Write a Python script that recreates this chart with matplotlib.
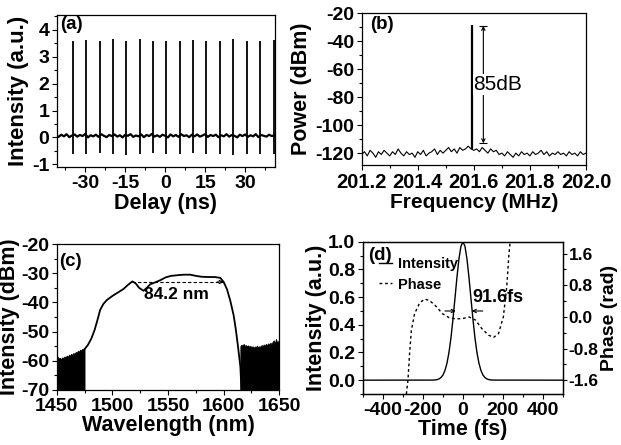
import numpy as np
import matplotlib.pyplot as plt
from matplotlib.ticker import MultipleLocator

plt.rcParams['font.family'] = ['Liberation Sans', 'DejaVu Sans']
plt.rcParams['font.weight'] = 'bold'
plt.rcParams['axes.labelweight'] = 'bold'
plt.rcParams['axes.unicode_minus'] = False

# (a) pulse train
pulse_t = [-34.6, -29.6, -24.6, -19.6, -14.6, -9.6, -4.6, 0.4, 5.4, 10.4,
           15.5, 20.5, 25.5, 30.6, 35.6, 40.9]
pulse_top = [3.60, 3.62, 3.60, 3.65, 3.60, 3.65, 3.60, 3.60, 3.60, 3.62,
             3.60, 3.60, 3.65, 3.60, 3.60, 3.62]
pulse_dip = [-0.62, -0.60, -0.58, -0.62, -0.65, -0.60, -0.58, -0.62, -0.60, -0.58,
             -0.62, -0.60, -0.66, -0.60, -0.62, -0.60]
base_t = np.arange(-41, 42)
base_a = [0.08, 0.02, 0.10, 0.04, 0.12, 0.01, 0.07, 0.11, 0.03, 0.09,
          0.05, 0.13, 0.00, 0.08, 0.04, 0.10, 0.02, 0.12, 0.06, 0.01,
          0.09, 0.05, 0.11, 0.03, 0.08, 0.00, 0.10, 0.06, 0.12, 0.02,
          0.07, 0.04, 0.11, 0.01, 0.09, 0.05, 0.13, 0.03, 0.08, 0.02,
          0.10, 0.06, 0.00, 0.11, 0.04, 0.09, 0.02, 0.12, 0.05, 0.08,
          0.01, 0.10, 0.04, 0.11, 0.03, 0.07, 0.12, 0.02, 0.09, 0.05,
          0.10, 0.01, 0.08, 0.04, 0.12, 0.03, 0.09, 0.06, 0.00, 0.10,
          0.05, 0.11, 0.02, 0.08, 0.04, 0.12, 0.01, 0.09, 0.06, 0.03,
          0.10, 0.05, 0.08]

# (b) RF spectrum
freq = np.round(np.arange(201.20, 202.005, 0.01), 2)
rf_noise = [-121, -119, -122, -118, -120, -123, -119, -121, -118, -120,
            -122, -119, -121, -117, -120, -122, -119, -121, -120, -123,
            -119, -121, -118, -122, -120, -119, -117, -121, -118, -120,
            -118, -116, -119, -117, -120, -116, -118, -117, -115, -117,
            -118, -117, -119, -116, -118, -120, -117, -119, -118, -121,
            -120, -122, -119, -121, -123, -120, -122, -119, -121, -120,
            -122, -119, -121, -120, -118, -121, -119, -122, -120, -121,
            -119, -121, -120, -122, -119, -121, -120, -122, -119, -121, -120]
rf_peak_f = 201.594
rf_peak_p = -28.5

# (c) optical spectrum
wl = [1474, 1478, 1481, 1484, 1487, 1489, 1492, 1495, 1500, 1505, 1510, 1514,
      1518, 1521, 1524, 1528, 1531, 1534, 1538, 1543, 1548, 1553, 1558, 1564,
      1570, 1575, 1580, 1586, 1592, 1597, 1600, 1603, 1606, 1609, 1611, 1613,
      1615, 1616]
spec = [-56.5, -54.6, -52.5, -49.5, -45.5, -42.6, -40.5, -39.2, -37.8, -36.6,
        -35.4, -34.0, -32.8, -33.5, -35.0, -36.0, -35.0, -33.8, -33.2, -32.4,
        -31.4, -30.9, -30.7, -30.5, -30.5, -30.9, -31.2, -31.3, -31.3, -31.6,
        -33.0, -35.5, -39.5, -44.5, -49.5, -55.5, -62.0, -70.0]
wl_left = np.arange(1450, 1476)
floor_left = [-58.0, -58.8, -59.2, -59.0, -59.5, -58.8, -59.2, -58.5, -58.9, -58.2,
              -58.7, -57.9, -58.3, -57.6, -58.0, -57.3, -57.7, -57.0, -57.2, -56.6,
              -56.9, -56.2, -56.5, -55.9, -56.2, -55.8]
wl_right = np.arange(1615, 1651)
floor_right = [-55.0, -54.5, -54.8, -54.2, -54.9, -54.6, -55.1, -54.7, -55.2, -54.9,
               -55.4, -55.0, -55.6, -55.1, -55.3, -54.8, -55.5, -55.0, -55.2, -54.6,
               -55.0, -54.4, -54.9, -54.2, -54.7, -54.0, -54.5, -53.8, -54.3, -53.5,
               -53.0, -54.2, -52.5, -53.8, -53.2, -54.0]

# (d) pulse intensity and phase
t_fs = [-500, -150, -140, -130, -120, -110, -100, -90, -80, -70, -60, -50, -40,
        -30, -20, -10, 0, 10, 20, 30, 40, 50, 60, 70, 80, 90, 100, 110, 120,
        130, 140, 150, 500]
inten = [0.0, 0.0006, 0.0016, 0.0039, 0.0088, 0.019, 0.037, 0.070, 0.122, 0.200,
         0.306, 0.440, 0.591, 0.744, 0.877, 0.968, 1.0, 0.968, 0.877, 0.744,
         0.591, 0.440, 0.306, 0.200, 0.122, 0.070, 0.037, 0.019, 0.0088, 0.0039,
         0.0016, 0.0006, 0.0]
t_ph = [-283, -275, -267, -258, -242, -217, -193, -168, -135, -102, -69, -36,
        0, 30, 63, 95, 128, 153, 178, 202, 219, 230, 237]
phase = [-1.95, -1.6, -0.93, -0.34, 0.08, 0.35, 0.45, 0.42, 0.27, 0.08, -0.02,
         -0.05, -0.04, 0.0, -0.08, -0.30, -0.46, -0.52, -0.42, 0.0, 0.76, 1.6, 1.94]

fig = plt.figure(figsize=(6.21, 4.45), dpi=100)
ax_a = fig.add_axes([0.0918, 0.6247, 0.351, 0.3416])
ax_b = fig.add_axes([0.5824, 0.6292, 0.3612, 0.341])
ax_c = fig.add_axes([0.0913, 0.1236, 0.3585, 0.328])
ax_d = fig.add_axes([0.5845, 0.1146, 0.322, 0.342])
ax_d2 = ax_d.twinx()

for ax in (ax_a, ax_b, ax_c, ax_d, ax_d2):
    ax.tick_params(labelsize=14, length=3.5, width=0.8, pad=2)
    ax.tick_params(which='minor', length=2, width=0.8)
    for s in ax.spines.values():
        s.set_linewidth(0.9)

# (a)
ax_a.plot(base_t, base_a, color='black', lw=1.6)
ax_a.vlines(pulse_t, pulse_dip, pulse_top, color='black', lw=1.3)
ax_a.set_xlim(-40.6, 41.2)
ax_a.set_ylim(-1.1, 4.55)
ax_a.set_xticks([-30, -15, 0, 15, 30])
ax_a.set_yticks([-1, 0, 1, 2, 3, 4])
ax_a.xaxis.set_minor_locator(MultipleLocator(7.5))
ax_a.yaxis.set_minor_locator(MultipleLocator(0.5))
ax_a.set_xlabel('Delay (ns)', fontsize=15.5, labelpad=1)
ax_a.set_ylabel('Intensity (a.u.)', fontsize=16, labelpad=2)
ax_a.text(0.014, 0.94, '(a)', transform=ax_a.transAxes, fontsize=13.5,
          va='center', ha='left')

# (b)
ax_b.plot(freq, rf_noise, color='black', lw=0.8)
ax_b.vlines(rf_peak_f, rf_noise[39], rf_peak_p, color='black', lw=1.6)
ax_b.annotate('', xy=(201.634, -29), xytext=(201.634, -113),
              arrowprops=dict(arrowstyle='<->', lw=0.8, shrinkA=0, shrinkB=0,
                              mutation_scale=6))
ax_b.hlines([-29, -113], 201.620, 201.648, color='black', lw=0.8)
ax_b.text(201.686, -71, '85dB', fontsize=15, fontweight='normal', ha='center',
          va='center', bbox=dict(facecolor='white', edgecolor='none', pad=0.5))
ax_b.set_xlim(201.2, 202.0)
ax_b.set_ylim(-128.5, -20)
ax_b.set_xticks([201.2, 201.4, 201.6, 201.8, 202.0])
ax_b.set_xticklabels(['201.2', '201.4', '201.6', '201.8', '202.0'])
ax_b.set_yticks([-120, -100, -80, -60, -40, -20])
ax_b.xaxis.set_minor_locator(MultipleLocator(0.1))
ax_b.yaxis.set_minor_locator(MultipleLocator(10))
ax_b.tick_params(axis='x', labelsize=14.5)
ax_b.set_xlabel('Frequency (MHz)', fontsize=15, labelpad=1)
ax_b.set_ylabel('Power (dBm)', fontsize=15.5, labelpad=2)
ax_b.text(0.037, 0.923, '(b)', transform=ax_b.transAxes, fontsize=13.5,
          va='center', ha='left')

# (c)
ax_c.fill_between(wl_left, -70, floor_left, color='black', lw=0.6)
ax_c.fill_between(wl_right, -70, floor_right, color='black', lw=0.6)
ax_c.plot(wl, spec, color='black', lw=1.3)
ax_c.plot([1518, 1600], [-33, -33], color='black', lw=0.8, ls=(0, (3, 2)))
ax_c.annotate('', xy=(1600, -33), xytext=(1594, -33),
              arrowprops=dict(arrowstyle='->', lw=0.8, mutation_scale=6,
                              shrinkA=0, shrinkB=0))
ax_c.text(1558, -37.3, '84.2 nm', fontsize=12.5, ha='center', va='center')
ax_c.set_xlim(1450, 1650)
ax_c.set_ylim(-70, -20)
ax_c.set_xticks([1450, 1500, 1550, 1600, 1650])
ax_c.set_yticks([-70, -60, -50, -40, -30, -20])
ax_c.xaxis.set_minor_locator(MultipleLocator(25))
ax_c.yaxis.set_minor_locator(MultipleLocator(5))
ax_c.set_xlabel('Wavelength (nm)', fontsize=15.5, labelpad=0)
ax_c.set_ylabel('Intensity (dBm)', fontsize=15.5, labelpad=1)
ax_c.text(0.01, 0.879, '(c)', transform=ax_c.transAxes, fontsize=13.5,
          va='center', ha='left')

# (d)
l_int, = ax_d.plot(t_fs, inten, color='black', lw=1.0, label='Intensity')
l_ph, = ax_d2.plot(t_ph, phase, color='black', lw=1.0, ls=(0, (2, 2)),
                   label='Phase')
ax_d.annotate('', xy=(-36, 0.5), xytext=(-90, 0.5),
              arrowprops=dict(arrowstyle='->', lw=0.8, mutation_scale=6,
                              shrinkA=0, shrinkB=0))
ax_d.annotate('', xy=(44, 0.5), xytext=(99, 0.5),
              arrowprops=dict(arrowstyle='->', lw=0.8, mutation_scale=6,
                              shrinkA=0, shrinkB=0))
ax_d.text(45, 0.6, '91.6fs', fontsize=13, ha='left', va='center')
ax_d.set_xlim(-500, 500)
ax_d.set_ylim(-0.1, 1.0)
ax_d.set_xticks([-400, -200, 0, 200, 400])
ax_d.set_yticks([0.0, 0.2, 0.4, 0.6, 0.8, 1.0])
ax_d.xaxis.set_minor_locator(MultipleLocator(100))
ax_d.yaxis.set_minor_locator(MultipleLocator(0.1))
ax_d.set_xlabel('Time (fs)', fontsize=15.5, labelpad=0)
ax_d.set_ylabel('Intensity (a.u.)', fontsize=15.5, labelpad=1)
ax_d2.set_ylim(-1.95, 1.9)
ax_d2.set_yticks([-1.6, -0.8, 0.0, 0.8, 1.6])
ax_d2.yaxis.set_minor_locator(MultipleLocator(0.4))
ax_d2.tick_params(labelsize=12.5, length=3, pad=1)
ax_d2.set_ylabel('Phase (rad)', fontsize=14)
ax_d2.yaxis.label.set_va('center')
ax_d2.yaxis.set_label_coords(1.235, 0.5)
ax_d.text(0.025, 0.913, '(d)', transform=ax_d.transAxes, fontsize=13.5,
          va='center', ha='left')
ax_d2.legend(handles=[l_int, l_ph], loc='upper left',
             bbox_to_anchor=(0.08, 0.9), frameon=False, fontsize=10.5,
             handlelength=0.9, handletextpad=0.4, labelspacing=0.45,
             borderpad=0, borderaxespad=0)

fig.savefig('out.png', dpi=100)
